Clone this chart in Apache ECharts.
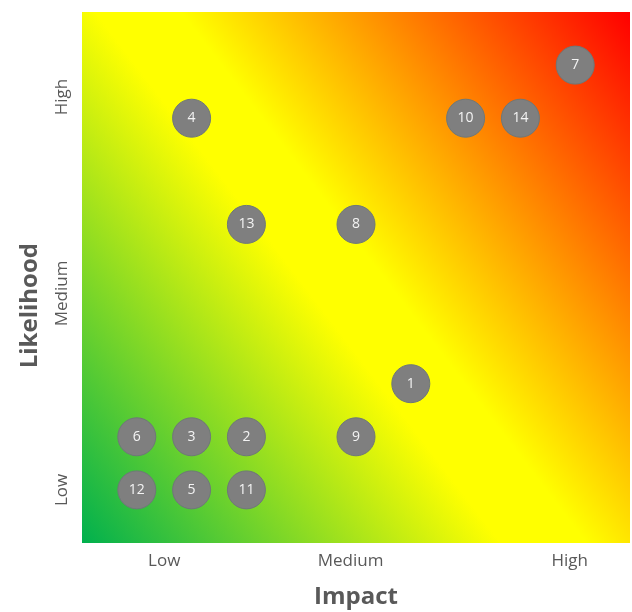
<!DOCTYPE html>
<html>
<head>
<meta charset="utf-8">
<style>html,body{margin:0;padding:0;background:#fff}#c{width:632px;height:612px}</style>
<script src="https://cdn.jsdelivr.net/npm/echarts@6/dist/echarts.min.js"></script>
</head>
<body>
<div id="c"></div>
<script>
const riskIds = ['1','2','3','4','5','6','7','8','9','10','11','12','13','14'];
const impact = [6, 3, 2, 2, 2, 1, 9, 5, 5, 7, 3, 1, 3, 8];
const likelihood = [3, 2, 2, 8, 1, 2, 9, 6, 2, 8, 1, 1, 6, 8];
const xTickLabels = ['Low', 'Medium', 'High'];
const xTickValues = [1.5, 4.9, 8.9];
const yTickLabels = ['Low', 'Medium', 'High'];
const yTickValues = [1.0, 4.7, 8.4];

const chart = echarts.init(document.getElementById('c'));
const font = "'Open Sans', 'Noto Sans', sans-serif";
const pts = riskIds.map((id, i) => ({ name: id, value: [impact[i], likelihood[i]] }));

chart.setOption({
  animation: false,
  grid: {
    left: 82, right: 2, top: 12, bottom: 69,
    outerBoundsMode: 'none', containLabel: false,
    show: true, borderWidth: 0,
    backgroundColor: new echarts.graphic.LinearGradient(82, 543, 683, 84, [
      { offset: 0, color: '#00b04e' },
      { offset: 0.44, color: '#ffff00' },
      { offset: 0.53, color: '#ffff00' },
      { offset: 1, color: '#ff0000' }
    ], true)
  },
  xAxis: {
    type: 'value', min: 0, max: 10,
    splitLine: { show: false }, axisLine: { show: false }, axisTick: { show: false },
    axisLabel: {
      customValues: xTickValues,
      formatter: v => xTickLabels[xTickValues.indexOf(v)] || '',
      color: '#595959', fontSize: 17, fontFamily: font, margin: 10
    },
    name: 'Impact', nameLocation: 'middle', nameGap: 42,
    nameTextStyle: { color: '#595959', fontSize: 24, fontWeight: 'bold', fontFamily: font }
  },
  yAxis: {
    type: 'value', min: 0, max: 10,
    splitLine: { show: false }, axisLine: { show: false }, axisTick: { show: false },
    axisLabel: {
      customValues: yTickValues,
      formatter: v => yTickLabels[yTickValues.indexOf(v)] || '',
      rotate: 90,
      color: '#595959', fontSize: 17, fontFamily: font, margin: 11
    }
  },
  graphic: [{
    type: 'text', left: 18, top: 243,
    rotation: Math.PI / 2,
    style: { text: 'Likelihood', fill: '#595959', fontSize: 24, fontWeight: 'bold', fontFamily: font }
  }],
  series: [{
    type: 'scatter',
    data: pts,
    symbol: 'circle',
    symbolSize: 38,
    itemStyle: { color: '#7f7f7f', borderColor: '#6e7878', borderWidth: 1, opacity: 1 },
    label: {
      show: true, position: 'inside',
      formatter: p => p.name,
      color: '#f4f4f4', fontSize: 14, fontFamily: font
    }
  }]
});
</script>
</body>
</html>
